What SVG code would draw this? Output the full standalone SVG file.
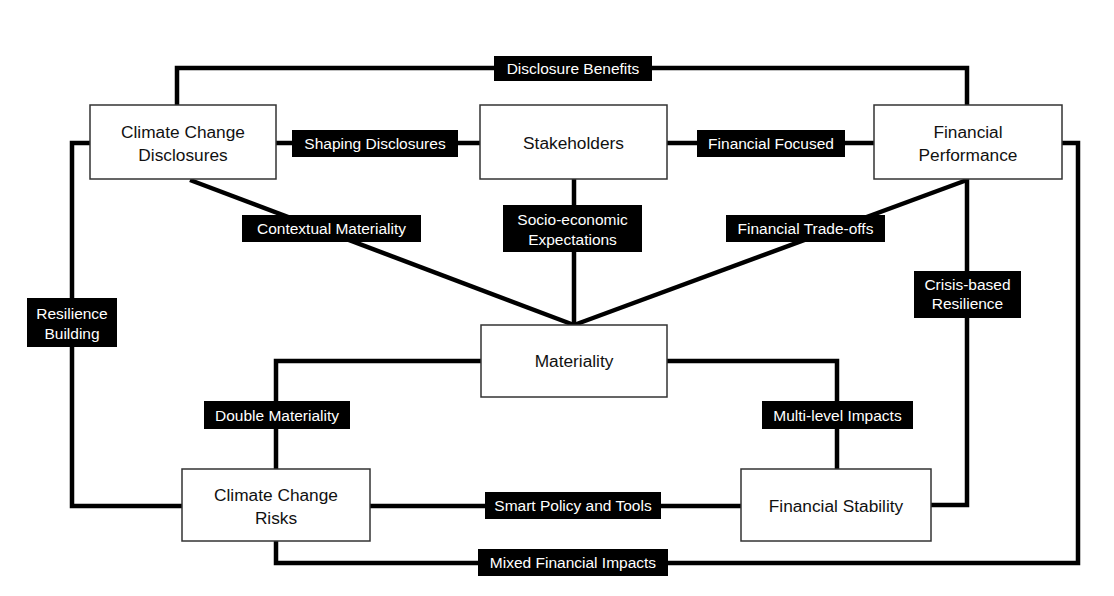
<svg xmlns="http://www.w3.org/2000/svg" width="1114" height="596" viewBox="0 0 1114 596">
<style>
.conn{fill:none;stroke:#000;stroke-width:4.5;stroke-linejoin:miter}
.box{fill:#fff;stroke:#333;stroke-width:1.5}
.lbl{fill:#000}
.nt{font-family:"Liberation Sans",Arial,sans-serif;font-size:17.3px;fill:#111;text-anchor:middle}
.lt{font-family:"Liberation Sans",Arial,sans-serif;font-size:15.5px;fill:#fff;text-anchor:middle}
</style>
<rect width="1114" height="596" fill="#fff"/>
<g id="connectors">
<polyline class="conn" points="177,106 177,68 967,68 967,106"/>
<line class="conn" x1="276" y1="143" x2="480" y2="143"/>
<line class="conn" x1="667" y1="143" x2="874" y2="143"/>
<line class="conn" x1="190" y1="180" x2="574" y2="325"/>
<line class="conn" x1="574" y1="179" x2="574" y2="325"/>
<line class="conn" x1="967" y1="180" x2="574" y2="325"/>
<polyline class="conn" points="967,179 967,505 931,505"/>
<polyline class="conn" points="1062,143 1078,143 1078,563 276,563 276,541"/>
<polyline class="conn" points="90,143 72,143 72,506 182,506"/>
<polyline class="conn" points="481,361 276,361 276,469"/>
<polyline class="conn" points="667,361 837,361 837,469"/>
<line class="conn" x1="370" y1="506" x2="741" y2="506"/>
<g id="label-disclosure-benefits"><rect class="lbl" x="494" y="56" width="158" height="25"/><text class="lt" x="573" y="74">Disclosure Benefits</text></g>
<g id="label-shaping"><rect class="lbl" x="292" y="130" width="166" height="27"/><text class="lt" x="375" y="149">Shaping Disclosures</text></g>
<g id="label-financial-focused"><rect class="lbl" x="697" y="130" width="148" height="27"/><text class="lt" x="771" y="149">Financial Focused</text></g>
<g id="label-contextual"><rect class="lbl" x="242" y="215" width="179" height="27"/><text class="lt" x="331.5" y="234">Contextual Materiality</text></g>
<g id="label-socio"><rect class="lbl" x="503" y="205" width="139" height="47"/><text class="lt" x="572.5" y="224.5">Socio-economic</text><text class="lt" x="572.5" y="244.5">Expectations</text></g>
<g id="label-tradeoffs"><rect class="lbl" x="726" y="215" width="159" height="27"/><text class="lt" x="805.5" y="234">Financial Trade-offs</text></g>
<g id="label-crisis"><rect class="lbl" x="914" y="271" width="107" height="47"/><text class="lt" x="967.5" y="289.5">Crisis-based</text><text class="lt" x="967.5" y="308.5">Resilience</text></g>
<g id="label-resilience"><rect class="lbl" x="27" y="298" width="90" height="49"/><text class="lt" x="72" y="318.5">Resilience</text><text class="lt" x="72" y="338.5">Building</text></g>
<g id="label-double"><rect class="lbl" x="204" y="401" width="146" height="28"/><text class="lt" x="277" y="420.5">Double Materiality</text></g>
<g id="label-multilevel"><rect class="lbl" x="762" y="401" width="151" height="28"/><text class="lt" x="837.5" y="420.5">Multi-level Impacts</text></g>
<g id="label-smart"><rect class="lbl" x="485" y="492" width="176" height="27"/><text class="lt" x="573" y="511">Smart Policy and Tools</text></g>
<g id="label-mixed"><rect class="lbl" x="478" y="549" width="190" height="27"/><text class="lt" x="573" y="568">Mixed Financial Impacts</text></g>
</g>
<g id="node-ccd"><rect class="box" x="90" y="105" width="186" height="74"/><text class="nt" x="183" y="138">Climate Change</text><text class="nt" x="183" y="161">Disclosures</text></g>
<g id="node-stakeholders"><rect class="box" x="480" y="105" width="187" height="74"/><text class="nt" x="573.5" y="149">Stakeholders</text></g>
<g id="node-fp"><rect class="box" x="874" y="105" width="188" height="74"/><text class="nt" x="968" y="138">Financial</text><text class="nt" x="968" y="161">Performance</text></g>
<g id="node-materiality"><rect class="box" x="481" y="325" width="186" height="72"/><text class="nt" x="574" y="367">Materiality</text></g>
<g id="node-ccr"><rect class="box" x="182" y="469" width="188" height="72"/><text class="nt" x="276" y="501">Climate Change</text><text class="nt" x="276" y="524">Risks</text></g>
<g id="node-fs"><rect class="box" x="741" y="469" width="190" height="72"/><text class="nt" x="836" y="512">Financial Stability</text></g>
</svg>
